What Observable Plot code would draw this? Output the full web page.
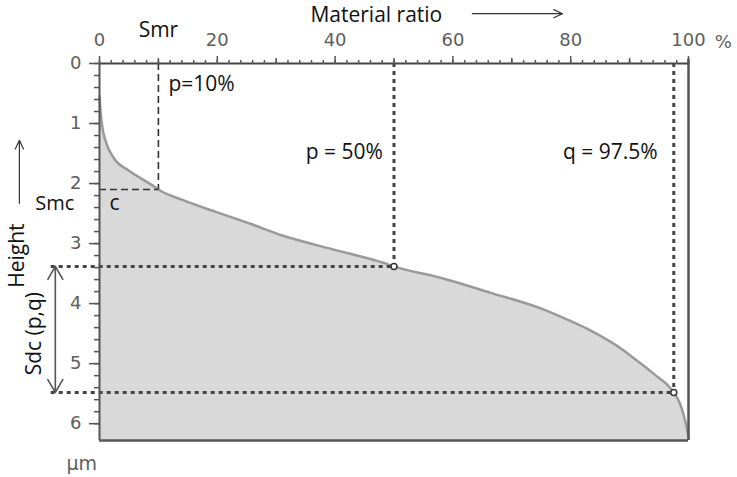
<!DOCTYPE html>
<html><head><meta charset="utf-8">
<script src="https://cdn.jsdelivr.net/npm/d3@7"></script>
<script src="https://cdn.jsdelivr.net/npm/@observablehq/plot@0.6"></script>
<style>body{margin:0;background:#fff}</style>
</head><body><div id="chart"></div>
<script>
// Material ratio curve (Abbott-Firestone): ratio in %, height in µm
const ratio  = [0, 0.17, 0.5, 1.0, 2.4, 4.9, 9.0, 10, 14.3, 20.0, 25.6, 31.2, 37.0, 42.6, 48.2, 50, 57.9, 66.4, 74.9, 79.5, 83.4, 89.0, 91.0, 93.0, 95.0, 96.5, 97.5, 98.5, 99.3, 99.8, 100];
const height = [0.55, 0.78, 1.07, 1.28, 1.57, 1.78, 2.03, 2.1, 2.28, 2.48, 2.67, 2.87, 3.03, 3.17, 3.32, 3.38, 3.57, 3.82, 4.08, 4.27, 4.45, 4.78, 4.93, 5.08, 5.24, 5.36, 5.48, 5.65, 5.9, 6.12, 6.25];
const xTicksMajor = [0, 20, 40, 60, 80, 100];
const xTicksMid = [10, 30, 50, 70, 90];
const yTicksMajor = [0, 1, 2, 3, 4, 5, 6];
const yMax = 6.28;
// Smr / Smc
const smr = 10, smc = 2.1;
// p, q markers
const markerRatio = [50, 97.5];
const markerHeight = [3.38, 5.48];

const curve = ratio.map((r, i) => ({r, h: height[i]}));
const markers = markerRatio.map((r, i) => ({r, h: markerHeight[i]}));

const LBL = "'Open Sans', sans-serif";
const TCK = "'DejaVu Sans', Verdana, sans-serif";
const TCOL = "#5e5e5e";
const dashed = {stroke: "#333", strokeWidth: 1.6, strokeDasharray: "7,4"};
const dotted = {stroke: "#444", strokeWidth: 3, strokeDasharray: "4,4"};

const txt = (s, x, y, o = {}) => Plot.text([s], {x: () => x, y: () => y, text: d => d,
  fontFamily: LBL, fontSize: 21, fill: "#111", lineAnchor: "middle", ...o});

const chart = Plot.plot({
  width: 737, height: 477,
  marginLeft: 99, marginRight: 49, marginTop: 63, marginBottom: 37,
  x: {domain: [0, 100]},
  y: {domain: [0, yMax], reverse: true},
  style: {background: "#fff", overflow: "visible"},
  marks: [
    Plot.areaY(curve, {x: "r", y1: "h", y2: () => yMax, fill: "#d9d9d9", curve: "monotone-x"}),
    Plot.line(curve, {x: "r", y: "h", stroke: "#9a9a9a", strokeWidth: 2.5, curve: "monotone-x"}),
    // Smr / Smc
    Plot.ruleX([smr], {y1: 0, y2: smc, ...dashed}),
    Plot.ruleY([smc], {x1: 0, x2: smr, ...dashed}),
    // p / q dotted lines
    Plot.ruleX(markers, {x: "r", y1: 0, y2: "h", ...dotted}),
    Plot.ruleY(markers, {y: "h", x1: -8.2, x2: "r", ...dotted}),
    Plot.dot(markers, {x: "r", y: "h", r: 3, fill: "white", stroke: "#333", strokeWidth: 1.5}),
    // frame
    Plot.ruleX([100], {y1: -0.07, y2: yMax, stroke: "#555", strokeWidth: 2.5}),
    Plot.ruleY([yMax], {x1: 0, x2: 100, stroke: "#555", strokeWidth: 2.5}),
    Plot.ruleX([0], {y1: 0, y2: yMax, stroke: "#555", strokeWidth: 2}),
    Plot.ruleY([0], {x1: 0, x2: 100, stroke: "#444", strokeWidth: 2}),
    // axes
    Plot.axisX({anchor: "top", ticks: d3.range(0, 101, 2), tickSize: 4, tickFormat: () => "", stroke: "#555", strokeWidth: 1.5, label: null}),
    Plot.axisX({anchor: "top", ticks: xTicksMid, tickSize: 6, tickFormat: () => "", stroke: "#555", strokeWidth: 1.5, label: null}),
    Plot.axisX({anchor: "top", ticks: xTicksMajor, tickSize: 8, tickPadding: 10, tickFormat: d => String(d),
      stroke: "#555", strokeWidth: 1.5, fill: TCOL, fontSize: 18, fontFamily: TCK, label: null}),
    Plot.axisY({anchor: "left", ticks: d3.range(0, 31).map(i => i / 5), tickSize: 5, tickFormat: () => "", stroke: "#555", strokeWidth: 1.5, label: null}),
    Plot.axisY({anchor: "left", ticks: yTicksMajor, tickSize: 10, tickPadding: 8, tickFormat: d => String(d),
      stroke: "#555", strokeWidth: 1.5, fill: TCOL, fontSize: 18, fontFamily: TCK, label: null}),
    txt("%", 105.9, -0.36, {fontFamily: TCK, fontSize: 18, fill: TCOL}),
    txt("µm", -3.0, 6.67, {fontFamily: TCK, fontSize: 19, fill: TCOL}),
    // labels
    txt("Material ratio", 47, -0.8, {fontSize: 21}),
    Plot.arrow([0], {x1: () => 63.3, x2: () => 78.6, y1: () => -0.83, y2: () => -0.83,
      stroke: "#333", strokeWidth: 1.2, headLength: 12, headAngle: 50}),
    txt("Smr", 10, -0.55),
    txt("p=10%", 11.7, 0.34, {textAnchor: "start"}),
    txt("p = 50%", 35, 1.48, {textAnchor: "start"}),
    txt("q = 97.5%", 78.7, 1.48, {textAnchor: "start"}),
    txt("Smc", -7.6, 2.33, {fontSize: 20}),
    txt("c", 2.55, 2.32),
    txt("Height", -14, 3.2, {rotate: -90}),
    Plot.arrow([0], {x1: () => -13.6, x2: () => -13.6, y1: () => 2.33, y2: () => 1.28,
      stroke: "#333", strokeWidth: 1.2, headLength: 12, headAngle: 50}),
    txt("Sdc (p,q)", -11, 4.5, {rotate: -90}),
    // double-headed Sdc arrow
    Plot.arrow([0, 1], {x1: () => -7.5, x2: () => -7.5,
      y1: () => (markerHeight[0] + markerHeight[1]) / 2,
      y2: (d) => markerHeight[d],
      stroke: "#555", strokeWidth: 1.6, headLength: 14, headAngle: 60})
  ]
});
document.getElementById("chart").appendChild(chart);
</script>
</body></html>
